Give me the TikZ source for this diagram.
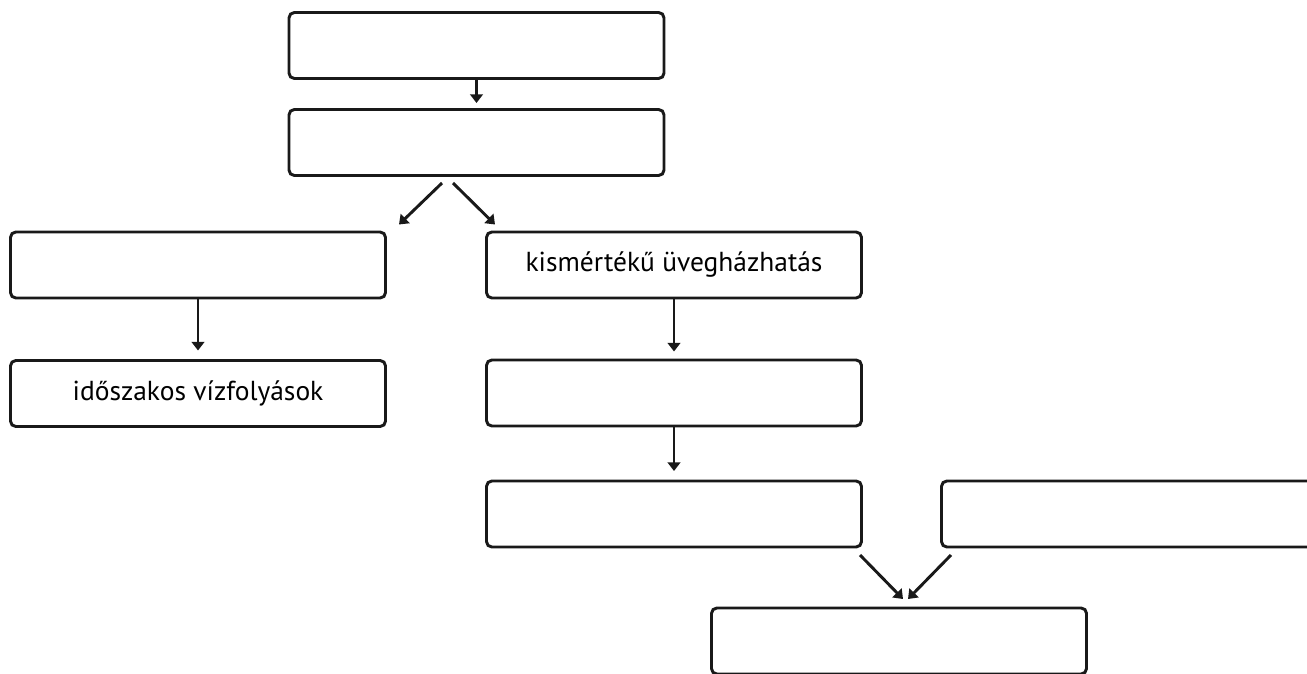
\documentclass[tikz,border=0pt]{standalone}
\usepackage{fontspec}
\setmainfont{PT Sans}
\usetikzlibrary{arrows.meta,calc}
\begin{document}
\begin{tikzpicture}[x=0.75pt,y=-0.75pt,
  box/.style={draw=black!90,line width=2.2pt,rounded corners=4pt,outer sep=0pt,
    minimum width=281.25pt,minimum height=49.5pt,inner sep=0pt,font=\fontsize{20.6pt}{24pt}\selectfont},
  arr/.style={line width=2.2pt,draw=black!90,-{Triangle[length=6.5pt,width=9.5pt]}}]
\useasboundingbox (0,0) rectangle (1307,674);
\clip (0,0) rectangle (1307,674);
\node[box] (B1) at (476.5,45.5) {};
\node[box] (B2) at (476.5,142.5) {};
\node[box] (B3) at (198,265) {};
\node[box] (B4) at (674,265) {kismértékű üvegházhatás};
\node[box] (B5) at (198,393.5) {időszakos vízfolyások};
\node[box] (B6) at (674,393) {};
\node[box] (B7) at (674,514) {};
\node[box] (B8) at (1129,514) {};
\node[box] (B9) at (899,641) {};
\draw[arr] (B1.south) -- ($(B2.north)+(0,-6.5)$);
\draw[arr] ($(B2.south)+(-34.5,7.5)$) -- ($(B3.north east)+(13.5,-7.5)$);
\draw[arr] ($(B2.south)+(-23.5,7.5)$) -- ($(B4.north west)+(8.5,-7.5)$);
\draw[arr] (B3.south) -- ($(B5.north)+(0,-10)$);
\draw[arr] (B4.south) -- ($(B6.north)+(0,-8.5)$);
\draw[arr] (B6.south) -- ($(B7.north)+(0,-10)$);
\draw[arr] ($(B7.south east)+(-1.5,8)$) -- ($(B9.north)+(4,-9)$);
\draw[arr] ($(B8.south west)+(9.5,8)$) -- ($(B9.north)+(9,-9)$);
\end{tikzpicture}
\end{document}
